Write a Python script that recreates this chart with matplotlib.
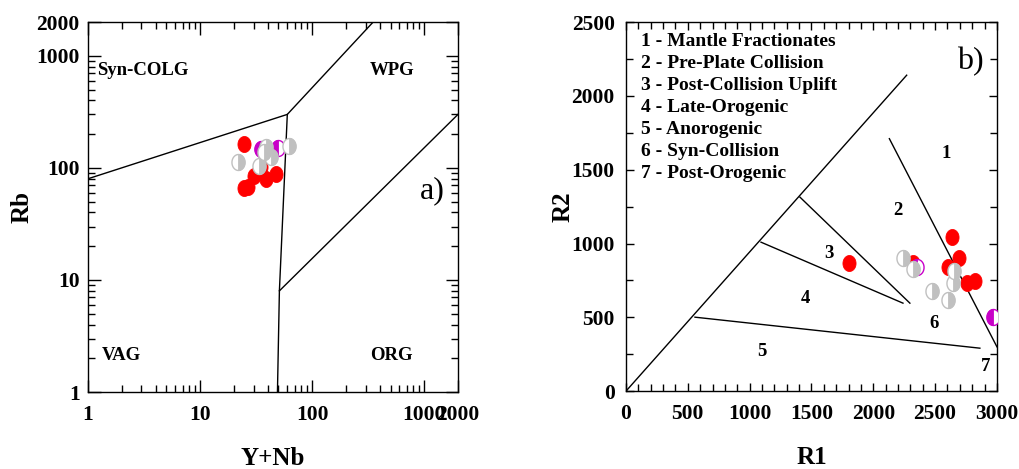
import numpy as np
import matplotlib
matplotlib.use("Agg")
import matplotlib.pyplot as plt
from matplotlib.path import Path
from matplotlib.ticker import FixedLocator, NullFormatter, MultipleLocator

plt.rcParams['font.family'] = ['Liberation Serif', 'DejaVu Serif']

# ---- Panel a: Rb vs Y+Nb (Pearce et al.) ----
a_red_x = [24.4, 24.4, 27.0, 30.0, 35.0, 38.6, 47.7]
a_red_y = [162, 66, 67.7, 84, 102, 79, 89]
a_gray_x = [21.6, 33.2, 38.6, 42.7, 62.7, 36.8]
a_gray_y = [112, 104, 154, 125, 157, 139]
a_mag_x = [35.1, 49.4]
a_mag_y = [147, 149]

a_bound_left_x = [1, 60]
a_bound_left_y = [80, 300]
a_bound_vert_x = [49, 51, 60, 350]
a_bound_vert_y = [1, 8, 300, 2000]
a_bound_org_x = [51, 2000]
a_bound_org_y = [8, 300]

a_ticks = [1, 10, 100, 1000, 2000]
a_ticklabels = ['1', '10', '100', '1000', '2000']

# ---- Panel b: R1-R2 (Batchelor & Bowden) ----
b_red_x = [1806, 2634, 2695, 2601, 2755, 2822, 2323]
b_red_y = [865, 1041, 903, 842, 734, 745, 865]
b_gray_x = [2242, 2323, 2472, 2601, 2647, 2655]
b_gray_y = [899, 824, 680, 617, 730, 813]
b_mag_x = [2351, 2970]
b_mag_y = [838, 503]

b_lines = [
    ([0, 2270], [0, 2140]),
    ([2130, 3000], [1710, 300]),
    ([1407, 2296], [1314, 596]),
    ([1092, 2240], [1009, 596]),
    ([558, 2862], [501, 291]),
]
b_region_labels = ['1', '2', '3', '4', '5', '6', '7']
b_region_x = [2590, 2200, 1640, 1450, 1100, 2490, 2910]
b_region_y = [1610, 1225, 930, 630, 270, 460, 170]
b_legend = ['1 - Mantle Fractionates', '2 - Pre-Plate Collision',
            '3 - Post-Collision Uplift', '4 - Late-Orogenic',
            '5 - Anorogenic', '6 - Syn-Collision', '7 - Post-Orogenic']

RED = '#ff0000'
GRAY = '#c0c0c0'
MAG = '#c800c8'
MS = 11.5

# slightly upright elliptical symbols, full and half
_t = np.linspace(0, 2 * np.pi, 73)
ELL = Path(np.column_stack([0.82 * np.cos(_t), np.sin(_t)]))
_h = np.linspace(-np.pi / 2, np.pi / 2, 37)
RIGHT_HALF = Path(np.vstack([np.column_stack([0.82 * np.cos(_h), np.sin(_h)]),
                             [[0, -1]]]))
LEFT_HALF = Path(np.vstack([np.column_stack([-0.82 * np.cos(_h), np.sin(_h)]),
                            [[0, -1]]]))


def draw_points(ax, rx, ry, gx, gy, mx, my):
    ax.plot(rx, ry, marker=ELL, ms=MS, color=RED, mec=RED, mew=0.6,
            ls='none', zorder=3)
    for x, y in zip(mx, my):
        ax.plot([x], [y], marker=ELL, ms=MS, mfc='white', mec=MAG, mew=1.0,
                ls='none', zorder=4)
        ax.plot([x], [y], marker=LEFT_HALF, ms=MS, mfc=MAG, mec=MAG, mew=0.6,
                ls='none', zorder=4)
    for x, y in zip(gx, gy):
        ax.plot([x], [y], marker=ELL, ms=MS, mfc='white', mec=GRAY, mew=1.0,
                ls='none', zorder=5)
        ax.plot([x], [y], marker=RIGHT_HALF, ms=MS, mfc=GRAY, mec=GRAY,
                mew=0.6, ls='none', zorder=5)


def style_ticks(ax, major_len, minor_len):
    ax.tick_params(which='both', direction='in', top=True, right=True,
                   width=1.0, colors='black')
    ax.tick_params(which='major', length=major_len)
    ax.tick_params(which='minor', length=minor_len)
    for s in ax.spines.values():
        s.set_linewidth(1.0)


fig = plt.figure(figsize=(10.2, 4.69), dpi=100)

# Panel a
ax1 = fig.add_axes([0.0863, 0.164, 0.3627, 0.789])
ax1.set_xscale('log')
ax1.set_yscale('log')
ax1.set_xlim(1, 2000)
ax1.set_ylim(1, 2000)
ax1.plot(a_bound_left_x, a_bound_left_y, color='black', lw=1.0)
ax1.plot(a_bound_vert_x, a_bound_vert_y, color='black', lw=1.0)
ax1.plot(a_bound_org_x, a_bound_org_y, color='black', lw=1.0)
draw_points(ax1, a_red_x, a_red_y, a_gray_x, a_gray_y, a_mag_x, a_mag_y)
ax1.xaxis.set_major_locator(FixedLocator(a_ticks))
ax1.yaxis.set_major_locator(FixedLocator(a_ticks))
ax1.set_xticklabels(a_ticklabels)
ax1.set_yticklabels(a_ticklabels)
ax1.xaxis.set_minor_formatter(NullFormatter())
ax1.yaxis.set_minor_formatter(NullFormatter())
style_ticks(ax1, 9, 5)
ax1.tick_params(axis='x', which='major', pad=9)
ax1.tick_params(axis='y', which='major', pad=6)
for lab in ax1.get_xticklabels() + ax1.get_yticklabels():
    lab.set_fontsize(15.5)
    lab.set_fontweight('bold')
ax1.set_xlabel('Y+Nb', fontsize=18, fontweight='bold', labelpad=16)
ax1.set_ylabel('Rb', fontsize=18, fontweight='bold', labelpad=2)
ax1.text(1.2, 746, 'Syn-COLG', fontsize=13.5, fontweight='bold', va='center')
ax1.text(328, 746, 'WPG', fontsize=13.5, fontweight='bold', va='center')
ax1.text(1.33, 2.14, 'VAG', fontsize=13.5, fontweight='bold', va='center')
ax1.text(328, 2.14, 'ORG', fontsize=13.5, fontweight='bold', va='center')
ax1.text(1172, 62, 'a)', fontsize=23, va='center', ha='center')

# Panel b
ax2 = fig.add_axes([0.6137, 0.166, 0.3637, 0.787])
ax2.set_xlim(0, 3000)
ax2.set_ylim(0, 2500)
for lx, ly in b_lines:
    ax2.plot(lx, ly, color='black', lw=1.0)
draw_points(ax2, b_red_x, b_red_y, b_gray_x, b_gray_y, b_mag_x, b_mag_y)
ax2.xaxis.set_major_locator(MultipleLocator(500))
ax2.xaxis.set_minor_locator(MultipleLocator(100))
ax2.yaxis.set_major_locator(MultipleLocator(500))
ax2.yaxis.set_minor_locator(MultipleLocator(250))
style_ticks(ax2, 6, 5)
ax2.tick_params(axis='x', which='major', pad=9)
ax2.tick_params(axis='y', which='major', pad=8)
for lab in ax2.get_xticklabels() + ax2.get_yticklabels():
    lab.set_fontsize(15.5)
    lab.set_fontweight('bold')
ax2.set_xlabel('R1', fontsize=18, fontweight='bold', labelpad=16)
ax2.set_ylabel('R2', fontsize=18, fontweight='bold', labelpad=-2)
for t, x, y in zip(b_region_labels, b_region_x, b_region_y):
    ax2.text(x, y, t, fontsize=13.5, fontweight='bold', ha='center', va='center')
for i, t in zip(range(len(b_legend)), b_legend):
    ax2.text(0.040, 0.946 - i * 0.0596, t, transform=ax2.transAxes,
             fontsize=14, fontweight='bold', va='center', ha='left')
ax2.text(0.927, 0.893, 'b)', transform=ax2.transAxes, fontsize=23,
         va='center', ha='center')

fig.savefig('out.png', dpi=100)
